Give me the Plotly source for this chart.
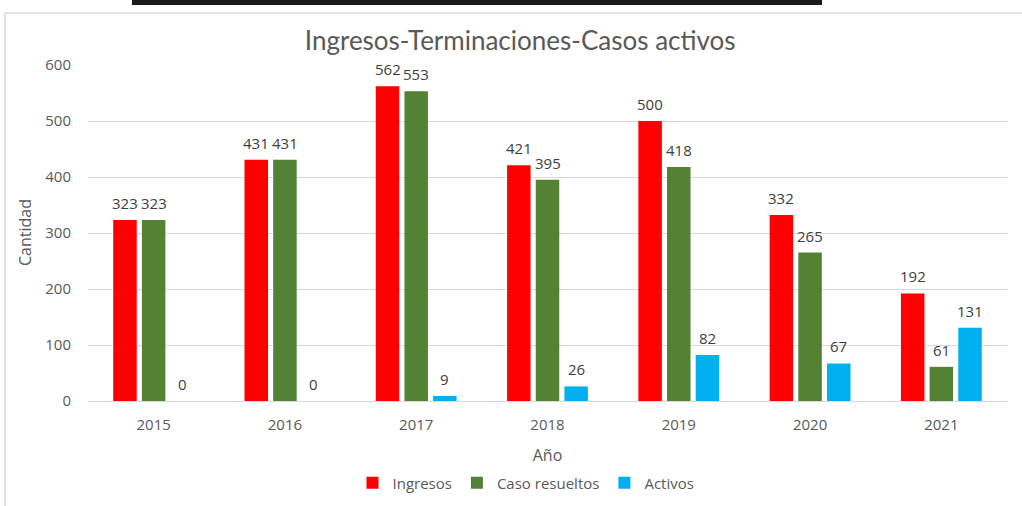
import plotly.graph_objects as go

years = ["2015", "2016", "2017", "2018", "2019", "2020", "2021"]
ingresos = [323, 431, 562, 421, 500, 332, 192]
resueltos = [323, 431, 553, 395, 418, 265, 61]
activos = [0, 0, 9, 26, 82, 67, 131]
series_names = ["Ingresos", "Caso resueltos", "Activos"]
colors = ["#FF0000", "#548235", "#00B0F0"]
y_ticks = [0, 100, 200, 300, 400, 500, 600]

W, H = 1022, 506
ML, MR, MT, MB = 88, 15, 65, 105
plot_w = W - ML - MR
plot_h = H - MT - MB
bargap = 0.345
groupgap = 0.18

fig = go.Figure()
all_series = [ingresos, resueltos, activos]
for name, vals, col in zip(series_names, all_series, colors):
    fig.add_trace(go.Bar(x=years, y=vals, name=name, marker=dict(color=col, line=dict(width=0))))

# data labels (x given as category index on the category axis)
slot = plot_w / len(years) * (1 - bargap) / 3
for i, vals in enumerate(all_series):
    for k, v in enumerate(vals):
        fig.add_annotation(x=k, y=v, xref="x", yref="y", text=str(v), showarrow=False,
                           xshift=(i - 1) * slot, yshift=17, yanchor="middle",
                           font=dict(family="Open Sans", size=15, color="#404040"))

def px_to_paper_x(p):
    return (p - ML) / plot_w

def px_to_paper_y(p):
    return (H - MB - p) / plot_h

# y-axis title
fig.add_annotation(text="Cantidad", xref="paper", yref="paper",
                   x=px_to_paper_x(25), y=0.5, textangle=-90, showarrow=False,
                   xanchor="center", yanchor="middle",
                   font=dict(family="Open Sans", size=16, color="#595959"))

# frame decorations
fig.add_shape(type="rect", xref="paper", yref="paper",
              x0=px_to_paper_x(132), x1=px_to_paper_x(822),
              y0=px_to_paper_y(5), y1=px_to_paper_y(0),
              fillcolor="#1a1a1a", line=dict(width=0))
fig.add_shape(type="line", xref="paper", yref="paper",
              x0=px_to_paper_x(5), x1=px_to_paper_x(1022),
              y0=px_to_paper_y(13), y1=px_to_paper_y(13),
              line=dict(color="#d9d9d9", width=1.5))
fig.add_shape(type="line", xref="paper", yref="paper",
              x0=px_to_paper_x(5), x1=px_to_paper_x(5),
              y0=px_to_paper_y(13), y1=px_to_paper_y(506),
              line=dict(color="#d9d9d9", width=1.5))

fig.update_layout(
    width=W, height=H,
    margin=dict(l=ML, r=MR, t=MT, b=MB, autoexpand=False),
    paper_bgcolor="white", plot_bgcolor="white",
    barmode="group", bargap=bargap, bargroupgap=groupgap,
    title=dict(text="Ingresos-Terminaciones-Casos activos", x=0.509, xanchor="center",
               y=1 - 41 / H, yanchor="middle", xref="container", yref="container",
               font=dict(family="Lato", size=26, color="#595959")),
    font=dict(family="Open Sans", size=15, color="#595959"),
    legend=dict(orientation="h", x=px_to_paper_x(526), xanchor="center",
                y=px_to_paper_y(483), yanchor="middle",
                font=dict(family="Open Sans", size=15, color="#595959"),
                itemwidth=30, traceorder="normal", bgcolor="rgba(0,0,0,0)"),
    showlegend=True,
)
fig.update_xaxes(type="category", categoryorder="array", categoryarray=years,
                 range=[-0.5, len(years) - 0.5], autorange=False,
                 showgrid=False, showline=False, ticks="outside", ticklen=10,
                 tickcolor="rgba(0,0,0,0)",
                 tickfont=dict(size=15, color="#595959"),
                 title=dict(text="Año", standoff=16, font=dict(size=16, color="#595959")),
                 fixedrange=True)
fig.update_yaxes(range=[0, 600], autorange=False, tickvals=y_ticks, showgrid=True, gridcolor="#d9d9d9",
                 gridwidth=1, zeroline=True, zerolinecolor="#d9d9d9", zerolinewidth=1,
                 showline=False, ticks="outside", ticklen=13, tickcolor="rgba(0,0,0,0)",
                 tickfont=dict(size=15, color="#595959"),
                 fixedrange=True)

fig.write_html("out.html", config={"displayModeBar": False},
               post_script="document.body.style.margin='0';")
